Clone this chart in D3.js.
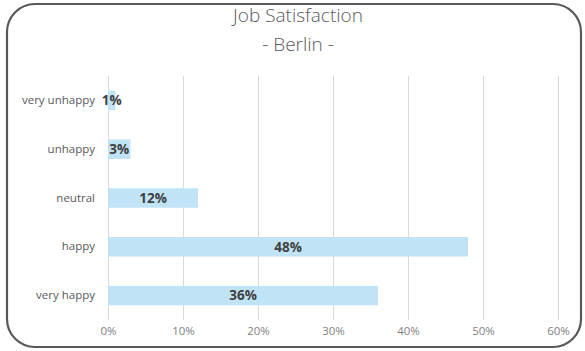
<!DOCTYPE html>
<html>
<head>
<meta charset="utf-8">
<script src="https://cdn.jsdelivr.net/npm/d3@7"></script>
<style>
  body { margin: 0; background: #fff; }
  svg { display: block; font-family: "Open Sans", Lato, sans-serif; }
</style>
</head>
<body>
<svg id="chart" width="585" height="351"></svg>
<script>
// data
var categories = ['very unhappy', 'unhappy', 'neutral', 'happy', 'very happy'];
var shares = [0.01, 0.03, 0.12, 0.48, 0.36];
var tickValues = [0, 0.1, 0.2, 0.3, 0.4, 0.5, 0.6];
var titleLines = ['Job Satisfaction', '- Berlin -'];

var svg = d3.select('#chart');

var margin = { left: 108, right: 27, top: 76, bottom: 31 },
    width = 585, height = 351;

// frame
svg.append('rect')
  .attr('x', 7).attr('y', 4)
  .attr('width', 574).attr('height', 343)
  .attr('rx', 28).attr('ry', 28)
  .attr('fill', '#fff')
  .attr('stroke', '#595959')
  .attr('stroke-width', 2.2);

var xScale = d3.scaleLinear()
  .domain([0, 0.6])
  .range([margin.left, width - margin.right]);

var yScale = d3.scaleBand()
  .domain(categories)
  .range([margin.top, height - margin.bottom])
  .paddingInner(0.6)
  .paddingOuter(0.3);

// vertical grids
svg.append('g').attr('class', 'xGrids')
  .selectAll('line')
  .data(tickValues)
  .join('line')
  .attr('x1', d => xScale(d)).attr('x2', d => xScale(d))
  .attr('y1', margin.top).attr('y2', height - margin.bottom)
  .attr('stroke', '#d9d9d9')
  .attr('stroke-width', 1)
  .style('shape-rendering', 'crispEdges');

// bars
var rows = categories.map((c, i) => ({ cat: c, v: shares[i] }));

svg.append('g').attr('class', 'bars')
  .selectAll('rect')
  .data(rows)
  .join('rect')
  .attr('x', xScale(0))
  .attr('y', d => yScale(d.cat))
  .attr('width', d => xScale(d.v) - xScale(0))
  .attr('height', yScale.bandwidth())
  .attr('fill', '#c0e4f5');

// value labels, centred in the bar
svg.append('g').attr('class', 'labels')
  .selectAll('text')
  .data(rows)
  .join('text')
  .attr('x', d => (xScale(d.v) + xScale(0)) / 2)
  .attr('y', d => yScale(d.cat) + yScale.bandwidth() / 2)
  .attr('dy', '0.36em')
  .attr('text-anchor', 'middle')
  .attr('font-size', 13.5)
  .attr('font-weight', 'bold')
  .attr('fill', '#404040')
  .text(d => d3.format('.0%')(d.v));

// category axis
var yAxis = svg.append('g')
  .attr('transform', `translate(${margin.left},0)`)
  .call(d3.axisLeft(yScale).tickSize(0).tickPadding(13));
yAxis.select('.domain').remove();
yAxis.selectAll('text')
  .attr('font-size', 11.5)
  .attr('fill', '#595959')
  .style('font-family', '"Open Sans", sans-serif');

// value axis
var xAxis = svg.append('g')
  .attr('transform', `translate(0,${height - margin.bottom})`)
  .call(d3.axisBottom(xScale).tickValues(tickValues).tickFormat(d3.format('.0%')).tickSize(0).tickPadding(7));
xAxis.select('.domain').remove();
xAxis.selectAll('text')
  .attr('font-size', 11.5)
  .attr('fill', '#7f7f7f')
  .style('font-family', '"Open Sans", sans-serif');

// title
svg.append('g').attr('class', 'title')
  .selectAll('text')
  .data(titleLines)
  .join('text')
  .attr('x', 298)
  .attr('y', (d, i) => 22 + i * 29)
  .attr('text-anchor', 'middle')
  .attr('font-size', 19)
  .attr('font-weight', 300)
  .attr('fill', '#595959')
  .text(d => d);
</script>
</body>
</html>
